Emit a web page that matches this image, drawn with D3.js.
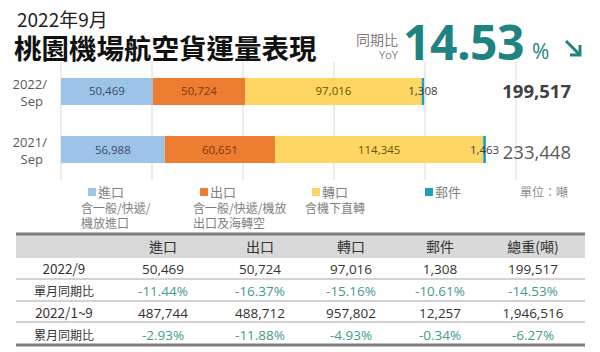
<!DOCTYPE html>
<html>
<head>
<meta charset="utf-8">
<script src="https://cdn.jsdelivr.net/npm/d3@7"></script>
<style>
  body{margin:0;background:#fff;}
  svg{display:block;font-family:"Noto Sans CJK TC","Noto Sans",sans-serif;}
</style>
</head>
<body>
<svg id="chart" width="600" height="352"></svg>
<script>
// bar data
const periods=["2022/Sep","2021/Sep"];
const seriesNames=["進口","出口","轉口","郵件"];
const importVals=[50469,56988];
const exportVals=[50724,60651];
const transitVals=[97016,114345];
const mailVals=[1308,1463];
const totals=[199517,233448];
const legendNotes=[["含一般/快遞/","機放進口"],["含一般/快遞/機放","出口及海轉空"],["含機下直轉"],[]];

// table data
const tableHead=["","進口","出口","轉口","郵件","總重(噸)"];
const rowLabels=["2022/9","單月同期比","2022/1~9","累月同期比"];
const monthVals=["50,469","50,724","97,016","1,308","199,517"];
const monthYoY=["-11.44%","-16.37%","-15.16%","-10.61%","-14.53%"];
const cumVals=["487,744","488,712","957,802","12,257","1,946,516"];
const cumYoY=["-2.93%","-11.88%","-4.93%","-0.34%","-6.27%"];

const colors=["#9dc3e6","#ed7d31","#fdd663","#1f9fbf"];
const labelColors=["#3b4d66","#7a3a10","#6b5300","#404040"];

const svg=d3.select("#chart");

// title
svg.append("text").attr("x",17).attr("y",27).attr("font-size",19).attr("fill","#222")
  .text("2022年9月");
svg.append("text").attr("x",14).attr("y",59).attr("font-size",27.5).attr("font-weight","bold")
  .attr("fill","#111").text("桃園機場航空貨運量表現");

// yoy headline
svg.append("text").attr("x",398).attr("y",45).attr("text-anchor","end").attr("font-size",14)
  .attr("fill","#7f7f7f").text("同期比");
svg.append("text").attr("x",398).attr("y",59).attr("text-anchor","end").attr("font-size",11)
  .attr("fill","#7f7f7f").attr("font-family","Open Sans").text("YoY");
svg.append("text").attr("x",403).attr("y",60).attr("font-size",48).attr("font-weight","bold")
  .attr("fill","#1f8382").attr("font-family","Open Sans").attr("letter-spacing",-0.5).text("14.53");
svg.append("text").attr("x",532).attr("y",59).attr("font-size",21)
  .attr("fill","#1f8382").attr("font-family","Open Sans").text("%");
const ar=svg.append("g").attr("stroke","#1f8382").attr("stroke-width",3).attr("fill","none");
ar.append("line").attr("x1",566).attr("y1",41).attr("x2",580).attr("y2",55);
ar.append("polyline").attr("points","570,55 580,55 580,45");

// bar chart
const x=d3.scaleLinear().domain([0,250000]).range([61,516]);
const y=d3.scaleBand().domain(periods).range([64,177]).paddingInner(0.534).paddingOuter(0.241);

svg.append("g").selectAll("line").data(x.ticks(5)).join("line")
  .attr("x1",d=>x(d)).attr("x2",d=>x(d)).attr("y1",62).attr("y2",180)
  .attr("stroke","#d9d9d9").attr("stroke-width",1);

const valuesBySeries=[importVals,exportVals,transitVals,mailVals];
const rows=periods.map((p,i)=>{
  let acc=0;
  return valuesBySeries.map((vals,s)=>{
    const seg={p,s,v:vals[i],x0:acc,x1:acc+vals[i]};
    acc+=vals[i];
    return seg;
  });
}).flat();

svg.append("g").selectAll("rect").data(rows).join("rect")
  .attr("x",d=>x(d.x0)).attr("width",d=>x(d.x1)-x(d.x0))
  .attr("y",d=>y(d.p)).attr("height",y.bandwidth())
  .attr("fill",d=>colors[d.s]);

svg.append("g").selectAll("text").data(rows).join("text")
  .attr("x",d=>(x(d.x0)+x(d.x1))/2).attr("y",d=>y(d.p)+y.bandwidth()/2+4)
  .attr("text-anchor","middle").attr("font-size",11.5).attr("font-family","Open Sans")
  .attr("fill",d=>labelColors[d.s]).text(d=>d3.format(",")(d.v));

// period labels
periods.forEach(p=>{
  const [a,b]=p.split("/");
  const t=svg.append("text").attr("text-anchor","end").attr("font-size",13)
    .attr("fill","#595959").attr("font-family","Open Sans");
  t.append("tspan").attr("x",47).attr("y",y(p)+11).text(a+"/");
  t.append("tspan").attr("x",43).attr("y",y(p)+28).text(b);
});

// totals
svg.append("g").selectAll("text").data(totals).join("text")
  .attr("x",571).attr("y",(d,i)=>y(periods[i])+y.bandwidth()/2+(i?9:7))
  .attr("text-anchor","end").attr("font-family","Open Sans")
  .attr("font-size",18.5).attr("font-weight",(d,i)=>i?"normal":"bold")
  .attr("fill",(d,i)=>i?"#595959":"#404040")
  .text(d=>d3.format(",")(d));

// legend
const lx=[88,200,312,425];
seriesNames.forEach((n,i)=>{
  svg.append("rect").attr("x",lx[i]).attr("y",188).attr("width",8).attr("height",8).attr("fill",colors[i]);
  svg.append("text").attr("x",lx[i]+10).attr("y",197).attr("font-size",13).attr("fill","#7f7f7f").text(n);
  legendNotes[i].forEach((t,j)=>{
    svg.append("text").attr("x",lx[i]-7).attr("y",213+j*15).attr("font-size",12)
      .attr("fill","#7f7f7f").text(t);
  });
});
svg.append("text").attr("x",520).attr("y",197).attr("font-size",12).attr("fill","#8c8c8c").text("單位：噸");

// table
const tx0=16, tx1=585;
const colX=[64,163,260,351,440,533];
svg.append("rect").attr("x",tx0).attr("y",235).attr("width",tx1-tx0).attr("height",23).attr("fill","#d9d9d9");
svg.append("line").attr("x1",tx0).attr("x2",tx1).attr("y1",234).attr("y2",234).attr("stroke","#7f7f7f").attr("stroke-width",3);
const rowY=[269,291,313,335];
[279,301,322].forEach(yy=>svg.append("line").attr("x1",tx0).attr("x2",tx1).attr("y1",yy).attr("y2",yy)
  .attr("stroke","#a6a6a6").attr("stroke-width",1));
svg.append("line").attr("x1",tx0).attr("x2",tx1).attr("y1",345).attr("y2",345).attr("stroke","#7f7f7f").attr("stroke-width",3);

svg.append("g").selectAll("text").data(tableHead).join("text")
  .attr("x",(d,i)=>colX[i]).attr("y",252).attr("text-anchor","middle").attr("font-size",14)
  .attr("fill","#333").text(d=>d);

const tableRows=[monthVals,monthYoY,cumVals,cumYoY];
tableRows.forEach((vals,r)=>{
  const isPct=r%2===1;
  svg.append("text").attr("x",colX[0]).attr("y",rowY[r]+5).attr("text-anchor","middle")
    .attr("font-size",isPct?12:13.5).attr("fill","#333").text(rowLabels[r]);
  svg.append("g").selectAll("text").data(vals).join("text")
    .attr("x",(d,i)=>colX[i+1]).attr("y",rowY[r]+5).attr("text-anchor","middle")
    .attr("font-size",13.5).attr("font-family","Open Sans")
    .attr("fill",isPct?"#3f9a8f":"#333").text(d=>d);
});
</script>
</body>
</html>
